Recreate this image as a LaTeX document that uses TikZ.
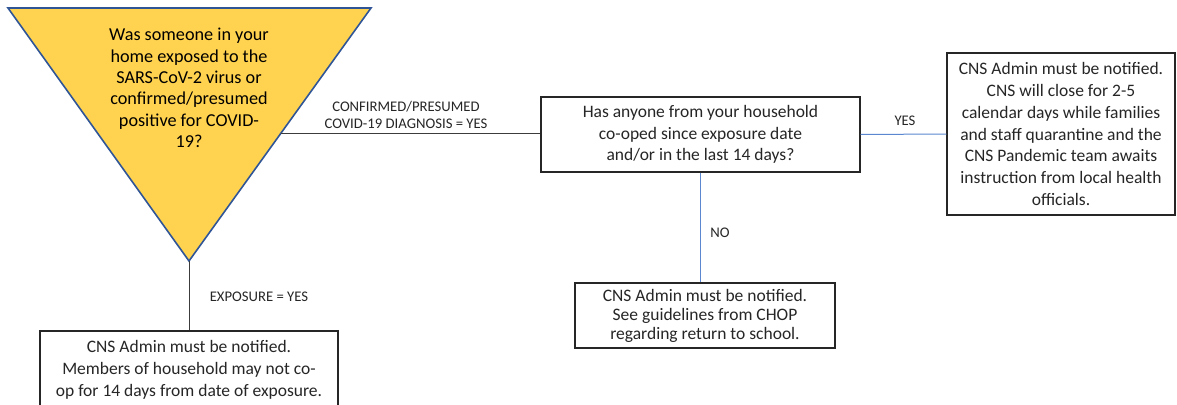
\documentclass[tikz,border=0pt]{standalone}
\usepackage{fontspec}
\setmainfont{Carlito}
\definecolor{gold}{HTML}{FFD34F}
\definecolor{triblue}{HTML}{2F5597}
\definecolor{lineblue}{HTML}{5B87D0}
\definecolor{ink}{HTML}{262626}
\begin{document}
\begin{tikzpicture}[x=1pt,y=-1pt,
  box/.style={draw=ink, line width=1.3pt, fill=white, inner sep=0, align=center,
              font=\fontsize{17.5}{21.7}\selectfont, text=ink},
  txt/.style={align=center, font=\fontsize{18.2}{21.3}\selectfont, inner sep=0, text=black},
  lab/.style={align=center, font=\fontsize{14.7}{17}\selectfont, inner sep=0, text=ink},
  conn/.style={draw=ink!90, line width=1pt},
  bconn/.style={draw=lineblue, line width=1pt}]
\useasboundingbox (0,0) rectangle (1177,404);
\clip (0,0) rectangle (1177,404);
% decision triangle
\coordinate (tTL) at (8,8);
\coordinate (tTR) at (371,8);
\coordinate (tA) at (189,261);
\coordinate (tR) at (281,133);
\draw[fill=gold, draw=triblue, line width=1.6pt, line join=miter] (tTL) -- (tTR) -- (tA) -- cycle;
\node[txt] (tq) at (189,88) {Was someone in your\\home exposed to the\\SARS-CoV-2 virus or\\confirmed/presumed\\positive for COVID-\\19?};
% boxes
\node[box, minimum width=319pt, minimum height=75pt] (q) at (700.5,134.5)
  {Has anyone from your household\\co-oped since exposure date\\and/or in the last 14 days?};
\node[box, minimum width=228pt, minimum height=162pt] (r) at (1061,134)
  {CNS Admin must be notified.\\CNS will close for 2-5\\calendar days while families\\and staff quarantine and the\\CNS Pandemic team awaits\\instruction from local health\\officials.};
\node[box, minimum width=260pt, minimum height=65pt, font=\fontsize{17.5}{19}\selectfont] (n) at (705,315.5)
  {CNS Admin must be notified.\\See guidelines from CHOP\\regarding return to school.};
\node[box, minimum width=298pt, minimum height=78pt] (e) at (189,370)
  {CNS Admin must be notified.\\Members of household may not co-\\op for 14 days from date of exposure.};
% connectors
\draw[conn] (tR) -- (tR -| q.west);
\draw[bconn] (q.east) -- (r.west);
\draw[bconn] (q.south) -- (q.south |- n.north);
\draw[conn] (tA) -- (e.north);
% labels
\node[lab] (l1) at (406,115) {CONFIRMED/PRESUMED\\COVID-19 DIAGNOSIS = YES};
\node[lab] (l2) at (905,121) {YES};
\node[lab] (l3) at (720,233) {NO};
\node[lab] (l4) at (259,297) {EXPOSURE = YES};
\end{tikzpicture}
\end{document}
